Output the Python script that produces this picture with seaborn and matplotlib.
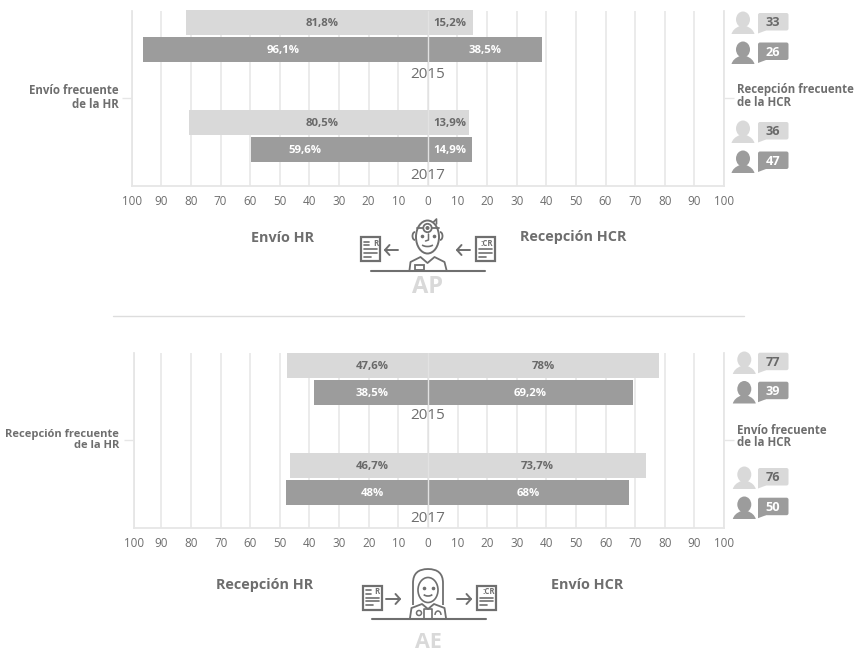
import matplotlib
matplotlib.use("Agg")
import matplotlib.pyplot as plt
import pandas as pd
import seaborn as sns
from matplotlib.patches import Ellipse, Circle, Rectangle, FancyBboxPatch, Polygon, Arc, PathPatch
from matplotlib.path import Path

sns.set_theme(style="white")
plt.rcParams["font.family"] = ["Open Sans", "DejaVu Sans"]

years = ["2015", "2015", "2017", "2017"]
cohorts = ["claro", "oscuro", "claro", "oscuro"]

ap_envio_hr = [81.8, 96.1, 80.5, 59.6]
ap_recepcion_hcr = [15.2, 38.5, 13.9, 14.9]
ap_respondents = [33, 26, 36, 47]
ap_left_labels = ["81,8%", "96,1%", "80,5%", "59,6%"]
ap_right_labels = ["15,2%", "38,5%", "13,9%", "14,9%"]

ae_recepcion_hr = [47.6, 38.5, 46.7, 48.0]
ae_envio_hcr = [78.0, 69.2, 73.7, 68.0]
ae_respondents = [77, 39, 76, 50]
ae_left_labels = ["47,6%", "38,5%", "46,7%", "48%"]
ae_right_labels = ["78%", "69,2%", "73,7%", "68%"]

tick_values = list(range(-100, 101, 10))
tick_labels = [str(abs(v)) for v in tick_values]

LIGHT = "#d9d9d9"
DARK = "#9c9c9c"
GRID = "#e6e6e6"
TEXT = "#6e6e6e"
ICON = "#6f6f6f"
W, H = 859, 654

# Row layout inside each panel: two tight pairs separated by a wider gap.
slots = [0.0, 1.0, 3.704, 4.704]
# Horizontal anchors of the in-bar labels, in axis units.
ap_left_at = [-35.7, -48.9, -35.7, -41.5]
ap_right_at = [7.5, 19.3, 7.5, 7.5]
ae_left_at = [-18.8, -18.8, -18.8, -18.8]
ae_right_at = [39, 34.6, 36.8, 33.9]

fig = plt.figure(figsize=(W / 100, H / 100), dpi=100, facecolor="white")


def axes_from_px(x0, x1, y0, y1):
    return fig.add_axes([x0 / W, 1 - y1 / H, (x1 - x0) / W, (y1 - y0) / H])


def draw_panel(ax, left, right, xmin, ylim, left_labels, right_labels, left_at, right_at):
    frame = pd.DataFrame({
        "slot": slots, "year": years, "cohort": cohorts,
        "left": [-v for v in left], "right": right,
    })
    palette = {"claro": LIGHT, "oscuro": DARK}
    for side in ("left", "right"):
        sns.barplot(data=frame, x=side, y="slot", hue="cohort", palette=palette,
                    orient="y", native_scale=True, dodge=False, width=0.926,
                    saturation=1, linewidth=0, errorbar=None, legend=False, ax=ax)
    for patch in ax.patches:
        patch.set_clip_on(False)
    ax.set_xlim(xmin, 100)
    ax.set_ylim(*ylim)
    ax.set_xlabel("")
    ax.set_ylabel("")
    ticks = [max(v, xmin) for v in tick_values]
    ax.set_xticks(ticks)
    ax.set_xticklabels(tick_labels, fontsize=8.4, color=TEXT)
    ax.set_yticks([sum(ylim) / 2])
    ax.set_yticklabels([])
    ax.tick_params(axis="x", length=0, pad=7)
    ax.tick_params(axis="y", left=True, right=True, length=7, width=1, color=GRID)
    ax.grid(axis="x", color=GRID, lw=1.1)
    ax.grid(axis="y", visible=False)
    ax.set_axisbelow(True)
    ax.patch.set_alpha(0)
    ax.spines["top"].set_visible(False)
    for name in ("left", "right", "bottom"):
        ax.spines[name].set_color(GRID)
        ax.spines[name].set_linewidth(1.3)
    for slot, cohort, ll, rl, lx, rx in zip(slots, cohorts, left_labels, right_labels, left_at, right_at):
        col = "#696969" if cohort == "claro" else "white"
        ax.text(lx, slot + 0.04, ll, ha="center", va="center", fontsize=8.2, fontweight="bold", color=col, zorder=6)
        ax.text(rx, slot + 0.04, rl, ha="center", va="center", fontsize=8.2, fontweight="bold", color=col, zorder=6)
    ax.axvline(0, color="#e2e2e2", lw=1, zorder=5)


ax_ap = axes_from_px(131.7, 724, 11, 185.7)
draw_panel(ax_ap, ap_envio_hr, ap_recepcion_hcr, -100, (6.044, -0.426),
           ap_left_labels, ap_right_labels, ap_left_at, ap_right_at)
ax_ae = axes_from_px(134.2, 724, 353, 527.7)
draw_panel(ax_ae, ae_recepcion_hr, ae_envio_hcr, -99.2, (6.007, -0.463),
           ae_left_labels, ae_right_labels, ae_left_at, ae_right_at)

# Overlay in pixel units for annotations and pictograms.
ov = fig.add_axes([0, 0, 1, 1], zorder=10)
ov.set_xlim(0, W)
ov.set_ylim(H, 0)
ov.axis("off")


def person(cx, top, color):
    ov.add_patch(Ellipse((cx, top + 7.5), 14, 16, color=color, lw=0))
    body = Path([(cx - 11.5, top + 22), (cx - 10, top + 16.5), (cx - 3, top + 14), (cx + 3, top + 14),
                 (cx + 10, top + 16.5), (cx + 11.5, top + 22), (cx - 11.5, top + 22)],
                [Path.MOVETO, Path.CURVE3, Path.CURVE3, Path.LINETO, Path.CURVE3, Path.CURVE3, Path.CLOSEPOLY])
    ov.add_patch(PathPatch(body, color=color, lw=0))


def bubble(x0, top, count, color, text_color):
    ov.add_patch(FancyBboxPatch((x0 + 1.5, top + 1.5), 27.5, 14.5, boxstyle="round,pad=1.5,rounding_size=2", color=color, lw=0))
    ov.add_patch(Polygon([(x0, top + 12), (x0 + 8, top + 17.5), (x0, top + 20.5)], color=color, lw=0))
    ov.text(x0 + 15, top + 9.6, str(count), ha="center", va="center", fontsize=9.2, fontweight="bold", color=text_color)


def respondents(counts, px, bx, person_tops, bubble_tops):
    for n, cohort, ptop, btop in zip(counts, cohorts, person_tops, bubble_tops):
        col = LIGHT if cohort == "claro" else DARK
        person(px, ptop, col)
        bubble(bx, btop, n, col, "#696969" if cohort == "claro" else "white")


def document(x0, y0, tag):
    ov.add_patch(Rectangle((x0, y0), 19, 24, fill=False, ec=ICON, lw=1.6))
    ov.text(x0 + (14.5 if tag == "R" else 11.5), y0 + 6.3, tag, ha="center", va="center",
            fontsize=5.6, fontweight="bold", color=ICON)
    if tag == "R":
        ov.plot([x0 + 3, x0 + 8], [y0 + 4.5, y0 + 4.5], color=ICON, lw=1.2)
        ov.plot([x0 + 3, x0 + 8], [y0 + 8, y0 + 8], color=ICON, lw=1.2)
    for dy, end in ((12, 16), (15.5, 16), (19.5, 10)):
        ov.plot([x0 + 3, x0 + end], [y0 + dy, y0 + dy], color=ICON, lw=1.2)


def arrow(x0, x1, y):
    d = 4.5 if x1 < x0 else -4.5
    ov.plot([x0, x1], [y, y], color=ICON, lw=1.4, solid_capstyle="round")
    ov.plot([x1 + d, x1, x1 + d], [y - 5, y, y + 5], color=ICON, lw=1.4, solid_capstyle="round")


def male_doctor(cx, base):
    ov.add_patch(Ellipse((cx, base - 33), 23, 33, fill=False, ec=ICON, lw=1.4))
    ov.add_patch(Arc((cx - 12.5, base - 34), 5, 8, theta1=90, theta2=270, ec=ICON, lw=1.3))
    ov.add_patch(Arc((cx + 12.5, base - 34), 5, 8, theta1=270, theta2=90, ec=ICON, lw=1.3))
    ov.plot([cx - 11, cx + 11], [base - 42, base - 42], color=ICON, lw=1.3)
    ov.plot([cx + 6, cx + 9, cx + 9], [base - 48, base - 51, base - 46], color=ICON, lw=1.2)
    ov.add_patch(Circle((cx, base - 42), 4.2, fc="white", ec=ICON, lw=1.3, zorder=4))
    ov.add_patch(Circle((cx, base - 42), 1.3, color=ICON, zorder=5))
    ov.plot([cx + 1, cx + 1, cx - 2], [base - 36, base - 30, base - 29], color=ICON, lw=1.1)
    ov.add_patch(Arc((cx, base - 27), 13, 7, theta1=20, theta2=160, ec=ICON, lw=1.2))
    ov.plot([cx - 6, cx + 6], [base - 34, base - 34], "o", color=ICON, ms=1.6)
    ov.plot([cx - 18, cx - 17, cx - 7, cx, cx + 7, cx + 17, cx + 19],
            [base, base - 8, base - 13, base - 7, base - 13, base - 8, base], color=ICON, lw=1.3)
    ov.add_patch(Rectangle((cx - 13, base - 5), 9, 5, fill=False, ec=ICON, lw=1.3))


def female_doctor(cx, base):
    hair = Path([(cx - 15, base - 13), (cx - 15, base - 35), (cx - 15, base - 49), (cx, base - 49),
                 (cx + 15, base - 49), (cx + 15, base - 35), (cx + 15, base - 13)],
                [Path.MOVETO, Path.LINETO, Path.CURVE3, Path.CURVE3, Path.CURVE3, Path.CURVE3, Path.LINETO])
    ov.add_patch(PathPatch(hair, fill=False, ec=ICON, lw=1.3))
    ov.add_patch(Ellipse((cx, base - 28), 20, 25, fill=False, ec=ICON, lw=1.2))
    ov.add_patch(Arc((cx, base - 25), 10, 6, theta1=20, theta2=160, ec=ICON, lw=1.2))
    ov.plot([cx - 4.5, cx + 4.5], [base - 30, base - 30], "o", color=ICON, ms=1.6)
    ov.plot([cx - 18, cx - 16.5, cx - 6, cx, cx + 6, cx + 16.5, cx + 18],
            [base, base - 10, base - 14, base - 9, base - 14, base - 10, base], color=ICON, lw=1.3)
    ov.plot([cx - 4, cx - 4, cx + 4, cx + 4], [base, base - 9, base - 9, base], color=ICON, lw=1.2)
    ov.add_patch(Circle((cx - 9, base - 5), 2.5, fill=False, ec=ICON, lw=1.1))
    ov.add_patch(Arc((cx + 10, base - 3), 6, 8, theta1=180, theta2=360, ec=ICON, lw=1.1))


for y, label in ((74.5, "2015"), (175.5, "2017"), (415.5, "2015"), (518.5, "2017")):
    ov.text(427.7, y, label, ha="center", va="center", fontsize=11, color=TEXT)

respondents(ap_respondents, 743, 758, [12, 42, 121, 151], [13, 42.5, 122, 151.5])
respondents(ae_respondents, 744.3, 758, [352, 381.5, 467, 497], [352.7, 381.7, 468, 497.7])

side_text = dict(va="center", fontweight="bold", color=TEXT, linespacing=1.0)
ov.text(119, 97.5, "Envío frecuente\nde la HR", ha="right", multialignment="right", fontsize=8.3, **side_text)
ov.text(737, 96, "Recepción frecuente\nde la HCR", ha="left", fontsize=8.3, **side_text)
ov.text(119, 440.5, "Recepción frecuente\nde la HR", ha="right", multialignment="right", fontsize=8, **side_text)
ov.text(737, 436.5, "Envío frecuente\nde la HCR", ha="left", fontsize=8.3, **side_text)

head_text = dict(ha="center", va="center", fontsize=10.4, fontweight="bold", color=TEXT)
ov.text(282.5, 237.5, "Envío HR", **head_text)
ov.text(573, 237.5, "Recepción HCR", **head_text)
ov.text(264.5, 585, "Recepción HR", **head_text)
ov.text(587, 585, "Envío HCR", **head_text)

ov.plot([371, 485], [270.5, 270.5], color=ICON, lw=1.5)
ov.plot([372, 486], [618.5, 618.5], color=ICON, lw=1.5)
ov.plot([113, 744], [315.5, 315.5], color="#dddddd", lw=1)

document(361, 237, "R")
document(475.5, 237, ":CR")
arrow(398, 385, 250)
arrow(470, 457, 250)
male_doctor(427.5, 270)

document(362.5, 585.5, "R")
document(477, 585.5, ":CR")
arrow(386, 400, 599)
arrow(457, 471, 599)
female_doctor(428, 618)

ov.text(427.5, 293, "AP", ha="center", va="baseline", fontsize=17, fontweight="bold", color=LIGHT)
ov.text(428, 648, "AE", ha="center", va="baseline", fontsize=15.5, fontweight="bold", color=LIGHT)

fig.savefig("out.png", dpi=100)
